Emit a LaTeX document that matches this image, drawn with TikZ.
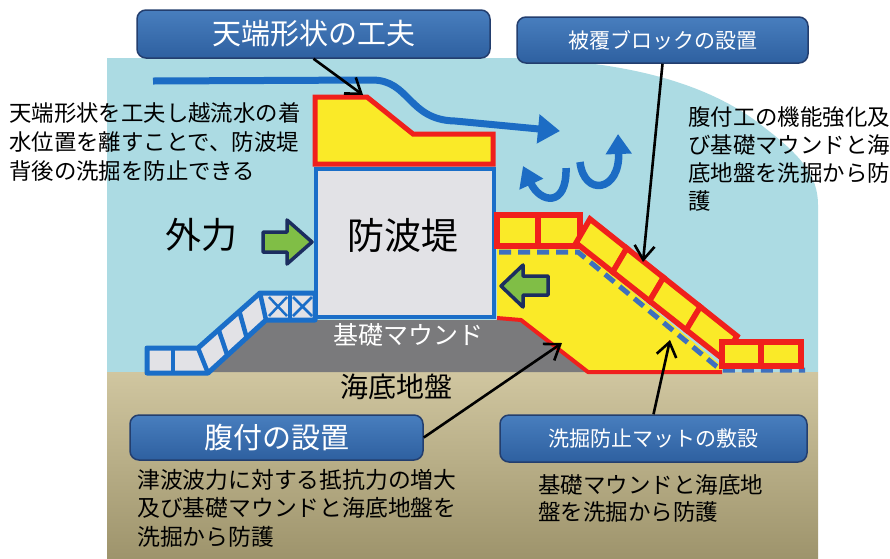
\documentclass[tikz,border=0pt]{standalone}
\usepackage{fontspec}
\newfontfamily\jp{Noto Sans CJK JP}
\usetikzlibrary{arrows.meta,calc}

\definecolor{sea}{RGB}{172,219,227}
\definecolor{bedtop}{RGB}{208,198,160}
\definecolor{bedbot}{RGB}{158,148,108}
\definecolor{mound}{RGB}{122,122,124}
\definecolor{caisson}{RGB}{226,226,230}
\definecolor{wallblue}{RGB}{26,110,200}
\definecolor{flowblue}{RGB}{28,108,196}
\definecolor{armred}{RGB}{240,32,28}
\definecolor{armyellow}{RGB}{250,234,40}
\definecolor{matblue}{RGB}{62,112,190}
\definecolor{boxtop}{RGB}{72,126,190}
\definecolor{boxbot}{RGB}{46,96,160}
\definecolor{boxedge}{RGB}{35,62,110}
\definecolor{arrgreen}{RGB}{128,190,70}
\definecolor{arrnavy}{RGB}{28,45,95}

\tikzset{
  tagbox/.style={rounded corners=9pt, draw=boxedge, line width=1.5pt,
    top color=boxtop, bottom color=boxbot, text=white, inner sep=0pt},
  leader/.style={draw=black, line width=2.6pt,
    -{Straight Barb[length=14pt,width=20pt]}},
  note/.style={align=left, inner sep=0pt, anchor=north west},
  flowline/.style={draw=flowblue, line width=7pt,
    -{Triangle[length=22pt,width=28pt]}},
  swirl/.style={draw=flowblue, line width=7.5pt,
    -{Triangle[length=20pt,width=25pt]}},
  force/.style={fill=arrgreen, draw=arrnavy, line width=3.5pt, line join=round},
  armleft/.style={fill=caisson, draw=wallblue, line width=5pt, line join=round},
  armblock/.style={fill=armyellow, draw=armred, line width=5.5pt, line join=miter},
  matline/.style={draw=matblue, line width=5pt, dash pattern=on 12pt off 7pt},
}

\begin{document}
\begin{tikzpicture}[x=1pt,y=-1pt]
\useasboundingbox (0,0) rectangle (890,558);
\fill[white] (0,0) rectangle (890,558);

% water body
\fill[sea] (107,58) -- (495,58) .. controls (600,58) and (700,75) .. (765,128)
  .. controls (800,155) and (818,175) .. (818,205) -- (818,372) -- (107,372) -- cycle;

% sea bed
\shade[top color=bedtop, bottom color=bedbot] (107,372) rectangle (818,558);

% rubble mound
\fill[mound] (210,372) -- (265,320) -- (522,320) -- (590,372) -- cycle;

% caisson
\draw[fill=caisson, draw=wallblue, line width=4pt] (316,169) rectangle (494,317);

% crown wall
\draw[fill=armyellow, draw=armred, line width=5pt, line join=miter]
  (315,97) -- (367,97) -- (413,134) -- (493,134) -- (493,164) -- (315,164) -- cycle;

% armour on the sea side
\draw[armleft] (147,348) -- (198,348) -- (260,293) -- (315,293) -- (315,320)
  -- (266,320) -- (208,373) -- (147,373) -- cycle;
\begin{scope}[draw=wallblue, line width=4.5pt]
  \draw (173,348) -- (173,373);
  \draw (198,348) -- (208,373);
  \draw ($(198,348)!0.333!(260,293)$) -- ($(208,373)!0.333!(266,320)$);
  \draw ($(198,348)!0.667!(260,293)$) -- ($(208,373)!0.667!(266,320)$);
  \draw (260,293) -- (266,320);
  \draw (290,293) -- (290,320);
\end{scope}
\begin{scope}[draw=wallblue, line width=2.5pt]
  \draw (269,297) -- (287,316) (269,316) -- (287,297);
  \draw (293,297) -- (312,316) (293,316) -- (312,297);
\end{scope}

% berm fill on the harbour side
\fill[armyellow] (497,246) -- (578,246) -- (722,366) -- (722,372) -- (588,372)
  -- (521,320) -- (497,318) -- cycle;
\draw[draw=armred, line width=4pt, line join=round]
  (497,318) -- (521,320) -- (588,372) -- (722,372);

% scour protection mat
\draw[matline] (499,252) -- (578,252) -- (716,366) -- (722,370) -- (805,370);

% armour blocks on the harbour side
\draw[armblock] (497,215) rectangle (538,246);
\draw[armblock] (538,215) rectangle (580,246);
\coordinate (sA) at (590,219);
\coordinate (sB) at (737,336);
\coordinate (sC) at (723,359);
\coordinate (sD) at (576,243);
\foreach \a/\b in {0/0.25,0.25/0.5,0.5/0.75,0.75/1}{
  \draw[armblock] ($(sA)!\a!(sB)$) -- ($(sA)!\b!(sB)$) -- ($(sD)!\b!(sC)$)
    -- ($(sD)!\a!(sC)$) -- cycle;
}
\draw[armblock] (722,342) rectangle (761,366);
\draw[armblock] (761,342) rectangle (801,366);

% overflow jet and eddies
\draw[flowline] (153,81) -- (372,80) .. controls (410,80) and (408,120) .. (455,121) -- (560,131);
\draw[swirl] (566,168) .. controls (567,208) and (540,203) .. (523,166);
\draw[swirl] (580,162) .. controls (584,197) and (620,192) .. (618,134);

% force arrows
\draw[force] (263,232) -- (287,232) -- (287,220) -- (312,242) -- (287,264)
  -- (287,252) -- (263,252) -- cycle;
\draw[force] (548,276) -- (523,276) -- (523,265) -- (501,286) -- (523,307)
  -- (523,295) -- (548,295) -- cycle;

% labels in the section
\node[font={\jp\fontsize{37}{37}\selectfont}] (bwlabel) at (403,235) {防波堤};
\node[font={\jp\fontsize{36}{36}\selectfont}] (forcelabel) at (201,235) {外力};
\node[font={\jp\fontsize{25}{25}\selectfont}, text=white] (moundlabel) at (408,335) {基礎マウンド};
\node[font={\jp\fontsize{28}{28}\selectfont}] (bedlabel) at (396,387) {海底地盤};

% explanatory notes
\node[note, font={\jp\fontsize{22.4}{29}\selectfont}] (noteA) at (9,102)
  {天端形状を工夫し越流水の着\\水位置を離すことで、防波堤\\背後の洗掘を防止できる};
\node[note, font={\jp\fontsize{22.4}{28}\selectfont}] (noteB) at (688,106)
  {腹付工の機能強化及\\び基礎マウンドと海\\底地盤を洗掘から防\\護};
\node[note, font={\jp\fontsize{22.8}{28.5}\selectfont}] (noteC) at (137,469)
  {津波波力に対する抵抗力の増大\\及び基礎マウンドと海底地盤を\\洗掘から防護};
\node[note, font={\jp\fontsize{22.5}{27}\selectfont}] (noteD) at (538,474)
  {基礎マウンドと海底地\\盤を洗掘から防護};

% title tags
\node[tagbox, minimum width=353pt, minimum height=48pt,
  font={\jp\fontsize{29}{29}\selectfont}] (tagCrown) at (313.5,34) {天端形状の工夫};
\node[tagbox, minimum width=291pt, minimum height=46pt,
  font={\jp\fontsize{21}{21}\selectfont}] (tagArmor) at (662.5,40) {被覆ブロックの設置};
\node[tagbox, minimum width=293pt, minimum height=45pt,
  font={\jp\fontsize{29}{29}\selectfont}] (tagBerm) at (276.5,437.5) {腹付の設置};
\node[tagbox, minimum width=307pt, minimum height=47pt,
  font={\jp\fontsize{21}{21}\selectfont}] (tagMat) at (653.5,438.5) {洗掘防止マットの敷設};

% leader targets
\coordinate (crownPt) at (363,95);
\coordinate (armorPt) at (643,262);
\coordinate (bermPt) at (562,343);
\coordinate (matPt) at (670,340);

\draw[leader] (tagCrown.south) -- (crownPt);
\draw[leader] (tagArmor.south) -- (armorPt);
\draw[leader] (tagBerm.east) -- (bermPt);
\draw[leader] (tagMat.north) -- (matPt);
\end{tikzpicture}
\end{document}
